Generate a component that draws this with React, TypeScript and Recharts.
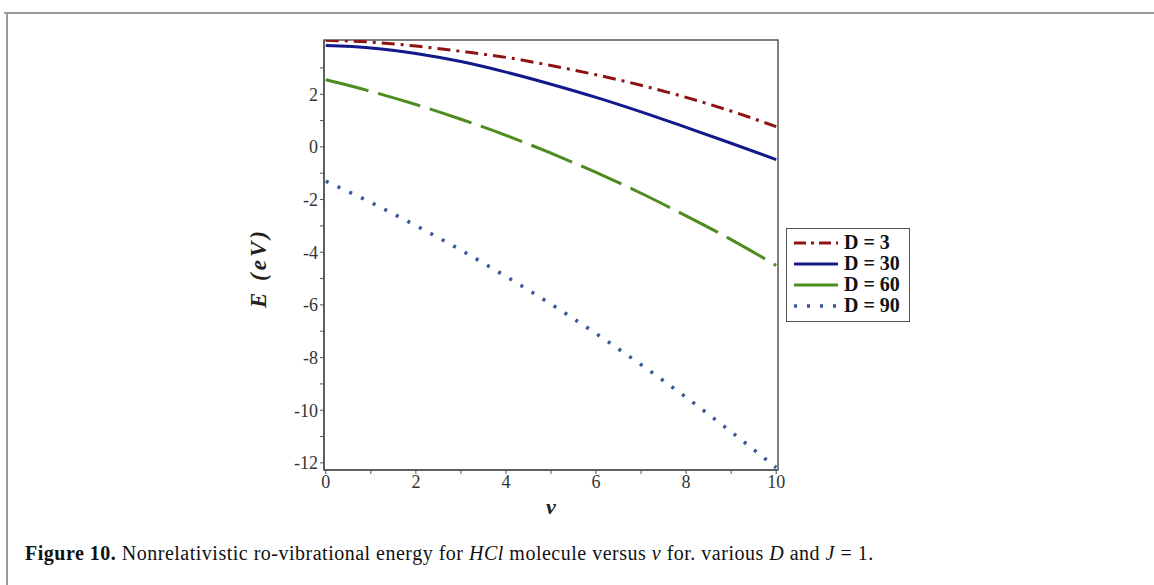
import React from 'react';
import { LineChart, Line, XAxis, YAxis, Legend, ReferenceArea } from 'recharts';

const vValues = [0, 1, 2, 3, 4, 5, 6, 7, 8, 9, 10];
const energyD3 = [4.05, 3.98, 3.83, 3.63, 3.4, 3.09, 2.74, 2.34, 1.88, 1.36, 0.77];
const energyD30 = [3.85, 3.76, 3.55, 3.24, 2.84, 2.38, 1.88, 1.33, 0.74, 0.14, -0.48];
const energyD60 = [2.55, 2.11, 1.61, 1.05, 0.44, -0.24, -0.97, -1.76, -2.62, -3.52, -4.5];
const energyD90 = [-1.3, -2.11, -2.99, -3.92, -4.92, -5.97, -7.09, -8.27, -9.51, -10.82, -12.18];

const xTicks = [0, 1, 2, 3, 4, 5, 6, 7, 8, 9, 10];
const yTicks = [-12, -11, -10, -9, -8, -7, -6, -5, -4, -3, -2, -1, 0, 1, 2, 3];
const xDomain = [-0.04, 10.04];
const yDomain = [-12.27, 4.06];

const seriesNames = ['D = 3', 'D = 30', 'D = 60', 'D = 90'];
const seriesKeys = ['d3', 'd30', 'd60', 'd90'];
const seriesColors = ['#8e1414', '#13198a', '#4d8c1f', '#38589a'];
const seriesDash = ['13 6 3 6', '', '44 10', '3 10'];
const seriesWidth = [3, 3, 3, 3.6];
const legendDash = ['12 5 3 5', '', '', '3 10'];

const data = vValues.map((v, i) => ({
  v,
  d3: energyD3[i],
  d30: energyD30[i],
  d60: energyD60[i],
  d90: energyD90[i],
}));

const fmtTick = (val: number) => {
  if (Math.abs(val % 2) === 1) return '';
  return val < 0 ? `-${Math.abs(val)}` : `${val}`;
};

const tickStyle = { fontFamily: '"Liberation Serif", serif', fontSize: 18, fill: '#333' };

const LegendBox = () => (
  <div
    style={{
      border: '1.5px solid #555',
      background: '#fff',
      padding: '3px 9px 5px 6px',
      fontFamily: '"Liberation Serif", serif',
      fontWeight: 'bold',
      fontSize: 20,
      color: '#111',
    }}
  >
    {seriesNames.map((name, i) => (
      <div key={name} style={{ display: 'flex', alignItems: 'center', height: 21 }}>
        <svg width={46} height={10} style={{ display: 'block' }}>
          <line
            x1={1}
            y1={5}
            x2={45}
            y2={5}
            stroke={seriesColors[i]}
            strokeWidth={seriesWidth[i]}
            strokeDasharray={legendDash[i] || undefined}
          />
        </svg>
        <span style={{ marginLeft: 5, whiteSpace: 'nowrap' }}>{name}</span>
      </div>
    ))}
  </div>
);

const YLabel = (props: any) => {
  const vb = props.viewBox || {};
  const cx = vb.x + vb.width / 2;
  const cy = vb.y + vb.height / 2 + 13;
  return (
    <text
      x={cx}
      y={cy}
      transform={`rotate(-90, ${cx}, ${cy})`}
      textAnchor="middle"
      dominantBaseline="central"
      style={{ fontFamily: '"Liberation Serif", serif', fontWeight: 'bold', fontStyle: 'italic', fontSize: 23, letterSpacing: 3, fill: '#222' }}
    >
      E (eV)
    </text>
  );
};

const XLabel = (props: any) => {
  const vb = props.viewBox || {};
  const cx = vb.x + vb.width / 2;
  const cy = vb.y + 44;
  return (
    <text
      x={cx}
      y={cy}
      textAnchor="middle"
      style={{ fontFamily: '"Liberation Serif", serif', fontWeight: 'bold', fontStyle: 'italic', fontSize: 22, fill: '#222' }}
    >
      v
    </text>
  );
};

export default function App() {
  return (
    <div style={{ position: 'absolute', left: 0, top: 0, width: 1154, height: 585, background: '#fff', overflow: 'hidden' }}>
      <div style={{ position: 'absolute', left: 4, top: 12, width: 1150, height: 2, background: '#9a9a9a' }} />
      <div style={{ position: 'absolute', left: 6, top: 12, width: 2, height: 573, background: '#9a9a9a' }} />
      <div style={{ position: 'absolute', left: 0, top: 0 }}>
        <LineChart
          width={1154}
          height={585}
          data={data}
          margin={{ top: 40, right: 376, bottom: 65, left: 192 }}
        >
          <XAxis
            dataKey="v"
            type="number"
            domain={xDomain}
            ticks={xTicks}
            tickFormatter={fmtTick}
            allowDataOverflow
            height={50}
            tickSize={4}
            tickMargin={1}
            tickLine={{ stroke: '#555' }}
            axisLine={{ stroke: '#555', strokeWidth: 1.5 }}
            tick={tickStyle}
            interval={0}
            label={<XLabel />}
          />
          <YAxis
            type="number"
            domain={yDomain}
            ticks={yTicks}
            tickFormatter={fmtTick}
            allowDataOverflow
            width={132}
            tickSize={4}
            tickMargin={2}
            tickLine={{ stroke: '#555' }}
            axisLine={{ stroke: '#555', strokeWidth: 1.5 }}
            tick={tickStyle}
            interval={0}
            label={<YLabel />}
          />
          <ReferenceArea
            x1={xDomain[0]}
            x2={xDomain[1]}
            y1={yDomain[0]}
            y2={yDomain[1]}
            fill="none"
            fillOpacity={0}
            stroke="#555"
            strokeWidth={1.5}
            ifOverflow="visible"
          />
          {seriesKeys.map((k, i) => (
            <Line
              key={k}
              dataKey={k}
              name={seriesNames[i]}
              type="monotone"
              stroke={seriesColors[i]}
              strokeWidth={seriesWidth[i]}
              strokeDasharray={seriesDash[i] || undefined}
              dot={false}
              activeDot={false}
              isAnimationActive={false}
            />
          ))}
          <Legend
            layout="vertical"
            align="center"
            verticalAlign="middle"
            content={<LegendBox />}
            wrapperStyle={{ position: 'absolute', left: 786, top: 228, width: 'auto' }}
          />
        </LineChart>
      </div>
      <div
        style={{
          position: 'absolute',
          left: 25,
          top: 542,
          fontFamily: '"Liberation Serif", serif',
          fontSize: 20,
          letterSpacing: 0.5,
          color: '#111',
          whiteSpace: 'nowrap',
        }}
      >
        <b>Figure 10.</b> Nonrelativistic ro-vibrational energy for <i>HCl</i> molecule versus <i>v</i> for. various{' '}
        <i>D</i> and <i>J</i> = 1.
      </div>
    </div>
  );
}
